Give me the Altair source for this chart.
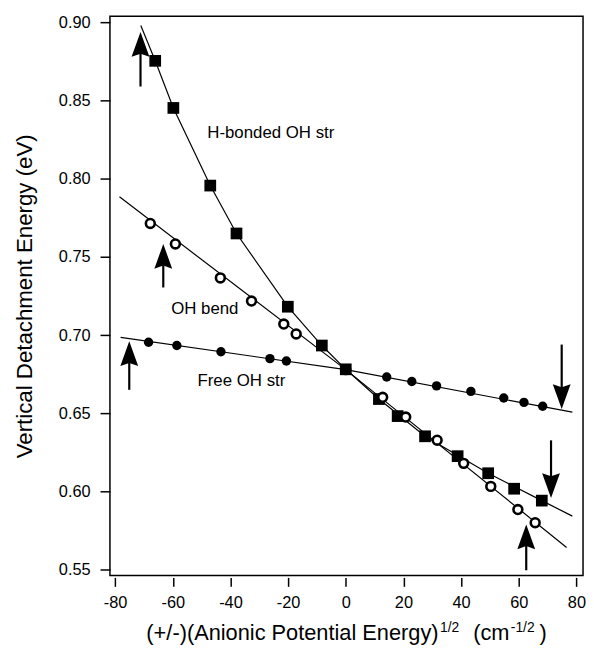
import altair as alt
import pandas as pd

# ---------------- data ----------------
# H-bonded OH str (filled squares)
hb_x = [-66.1, -59.8, -47.0, -37.9, -20.1, -8.3, 0.0, 11.5, 18.0, 27.5, 38.8, 49.4, 58.4, 68.0]
hb_y = [0.8753, 0.8452, 0.7956, 0.7650, 0.7182, 0.6934, 0.6782, 0.6592, 0.6483, 0.6354, 0.6227, 0.6118, 0.6019, 0.5943]
# OH bend (open circles)
bend_x = [-67.8, -59.1, -43.5, -32.7, -21.5, -17.2, 0.0, 12.8, 20.8, 31.7, 40.9, 50.3, 59.7, 65.7]
bend_y = [0.7714, 0.7583, 0.7366, 0.7218, 0.7071, 0.7008, 0.6780, 0.6603, 0.6477, 0.6329, 0.6181, 0.6034, 0.5886, 0.5802]
# Free OH str (filled circles)
free_x = [-68.4, -58.6, -43.3, -26.3, -20.6, 0.0, 14.2, 22.9, 31.5, 43.4, 54.8, 61.8, 68.3]
free_y = [0.6955, 0.6934, 0.6894, 0.6850, 0.6835, 0.6780, 0.6733, 0.6704, 0.6676, 0.6641, 0.6599, 0.6571, 0.6546]

# fitted lines (vertices)
hb_fit_x = [-71.1, -66.1, -59.8, -47.0, -37.9, -20.1, -8.3, 0.0, 11.5, 27.5, 49.4, 68.0, 78.6]
hb_fit_y = [0.8979, 0.8753, 0.8452, 0.7956, 0.7650, 0.7182, 0.6934, 0.6782, 0.6592, 0.6354, 0.6118, 0.5943, 0.5844]
bend_fit_x = [-78.5, 0.0, 76.6]
bend_fit_y = [0.7884, 0.6780, 0.5644]
free_fit_x = [-78.1, 0.0, 78.6]
free_fit_y = [0.6986, 0.6780, 0.6508]

# arrows
arrow_x = [-71.2, -63.3, -75.1, 74.9, 71.2, 62.6]
arrow_tail = [0.8589, 0.7305, 0.6651, 0.6940, 0.6328, 0.5498]
arrow_tip = [0.8937, 0.7583, 0.6961, 0.6529, 0.5960, 0.5791]

# series labels
label_text = ["H-bonded OH str", "OH bend", "Free OH str"]
label_x = [-26.0, -48.9, -36.2]
label_y = [0.8289, 0.7164, 0.6708]

x_ticks = [-80, -60, -40, -20, 0, 20, 40, 60, 80]
y_ticks = [0.55, 0.60, 0.65, 0.70, 0.75, 0.80, 0.85, 0.90]

FONT = "Liberation Sans"
W, H = 478, 565

# ---------------- tables ----------------
hb = pd.DataFrame({"x": hb_x, "y": hb_y})
bend = pd.DataFrame({"x": bend_x, "y": bend_y})
free = pd.DataFrame({"x": free_x, "y": free_y})
hb_fit = pd.DataFrame({"x": hb_fit_x, "y": hb_fit_y})
bend_fit = pd.DataFrame({"x": bend_fit_x, "y": bend_fit_y})
free_fit = pd.DataFrame({"x": free_fit_x, "y": free_fit_y})
arrows = pd.DataFrame({"x": arrow_x, "tail": arrow_tail, "tip": arrow_tip})
arrows["dir"] = ["up" if t > s else "down" for s, t in zip(arrow_tail, arrow_tip)]
arrows["base"] = [t - 0.0133 if d == "up" else t + 0.0133 for t, d in zip(arrow_tip, arrows["dir"])]
labels = pd.DataFrame({"x": label_x, "y": label_y, "t": label_text})

xscale = alt.Scale(domain=[-81.8, 82.3], nice=False, zero=False)
yscale = alt.Scale(domain=[0.5465, 0.9038], nice=False, zero=False)

xaxis = alt.Axis(values=x_ticks, tickSize=9, offset=2, labelPadding=8, domain=False,
                 grid=False, title=None,
                 labelExpr="datum.value < 0 ? '-' + format(-datum.value, 'd') : format(datum.value, 'd')")
yaxis = alt.Axis(values=y_ticks, format=".2f", tickSize=10, labelPadding=10, domain=False,
                 grid=False, title="Vertical Detachment Energy (eV)",
                 titleX=-86, titleY=H / 2, titleAngle=270,
                 titleAlign="center", titleBaseline="middle")

X = alt.X("x:Q", scale=xscale, axis=xaxis)
Y = alt.Y("y:Q", scale=yscale, axis=yaxis)

line_style = dict(color="black", strokeWidth=1.2)

l_hb = alt.Chart(hb_fit).mark_line(**line_style).encode(x=X, y=Y)
l_bend = alt.Chart(bend_fit).mark_line(**line_style).encode(x=X, y=Y)
l_free = alt.Chart(free_fit).mark_line(**line_style).encode(x=X, y=Y)

p_hb = alt.Chart(hb).mark_point(shape="square", filled=True, color="black",
                                size=140, opacity=1).encode(x=X, y=Y)
p_bend = alt.Chart(bend).mark_point(shape="circle", filled=True, fill="white", stroke="black",
                                    strokeWidth=2.6, size=80, opacity=1).encode(x=X, y=Y)
p_free = alt.Chart(free).mark_point(shape="circle", filled=True, color="black",
                                    size=90, opacity=1).encode(x=X, y=Y)

up_path = "M0,0L0.72,2L0,1.75L-0.72,2Z"
down_path = "M0,0L0.72,-2L0,-1.75L-0.72,-2Z"

shafts = alt.Chart(arrows).mark_rule(color="black", strokeWidth=2.2).encode(
    x=X, y=alt.Y("tail:Q", scale=yscale, axis=yaxis), y2="base:Q")
heads = alt.Chart(arrows).mark_point(filled=True, color="black", size=625, opacity=1,
                                     strokeWidth=0).encode(
    x=X, y=alt.Y("tip:Q", scale=yscale, axis=yaxis),
    shape=alt.Shape("dir:N", scale=alt.Scale(domain=["up", "down"], range=[up_path, down_path]),
                    legend=None))

texts = alt.Chart(labels).mark_text(font=FONT, fontSize=17, color="black").encode(
    x=X, y=Y, text="t:N")

# x-axis title assembled from pieces (with superscripts)
one = alt.Data(values=[{}])
def piece(txt, px, py, size, align):
    return alt.Chart(one).mark_text(text=txt, font=FONT, fontSize=size, color="black",
                                    align=align, baseline="alphabetic").encode(
        x=alt.value(px), y=alt.value(py))

title_parts = [
    piece("(+/-)(Anionic Potential Energy)", 332, 630, 22, "right"),
    piece("1/2", 333.5, 622, 14, "left"),
    piece("(cm", 367, 630, 22, "left"),
    piece("-1/2", 405, 622, 14, "left"),
    piece(")", 434, 630, 22, "left"),
]

chart = alt.layer(
    l_hb, l_bend, l_free, shafts, heads, p_hb, p_bend, p_free, texts, *title_parts
).properties(
    width=W, height=H,
    autosize=alt.AutoSizeParams(type="none"),
    padding={"left": 103, "top": 5, "right": 3, "bottom": 70},
).configure_view(
    stroke="black", strokeWidth=1.5
).configure_axis(
    labelFont=FONT, labelFontSize=16.5, labelColor="black",
    tickColor="black", tickWidth=1.5,
    titleFont=FONT, titleFontSize=22.5, titleFontWeight="normal", titleColor="black",
)

chart.save("out.html", embed_options={"renderer": "svg", "actions": False})
